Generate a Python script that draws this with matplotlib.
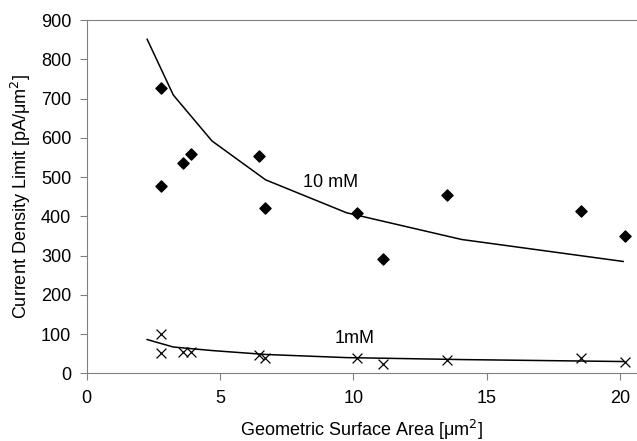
import numpy as np
import matplotlib
matplotlib.use('Agg')
import matplotlib.pyplot as plt

plt.rcParams['font.family'] = ['Liberation Sans', 'DejaVu Sans']

# measured points, 10 mM
area_10 = [2.8, 2.8, 3.6, 3.9, 6.45, 6.7, 10.15, 11.1, 13.5, 18.55, 20.2]
limit_10 = [727, 478, 537, 559, 554, 421, 408, 291, 455, 413, 351]

# measured points, 1 mM
area_1 = [2.8, 2.8, 3.6, 3.9, 6.45, 6.7, 10.15, 11.1, 13.5, 18.55, 20.2]
limit_1 = [101, 53, 55, 54, 46, 40, 38, 24, 34, 39, 28]

# model curves
fit_area = [2.27, 3.25, 4.7, 6.71, 9.75, 14.06, 20.12]
fit_10 = [851, 709, 592, 493, 409, 341, 285]
fit_1 = [86, 67, 58, 48, 40, 35, 30]

fig = plt.figure(figsize=(6.37, 4.41), dpi=100)
ax = fig.add_axes([0.136, 0.1535, 0.864, 0.801])

ax.plot(fit_area, fit_10, color='black', lw=1.1)
ax.plot(fit_area, fit_1, color='black', lw=1.1)
ax.scatter(area_10, limit_10, marker='D', s=32, color='black', zorder=3)
ax.scatter(area_1, limit_1, marker='x', s=50, color='black', lw=0.9, zorder=3)

ax.text(8.1, 485, '10 mM', fontsize=13, va='center')
ax.text(9.3, 88, '1mM', fontsize=13, va='center')

ax.set_xlim(0, 20.64)
ax.set_ylim(0, 900)
ax.set_xticks([0, 5, 10, 15, 20])
ax.set_yticks(np.arange(0, 901, 100))

for side in ['left', 'bottom', 'top']:
    ax.spines[side].set_color('#808080')
ax.spines['right'].set_visible(False)
ax.tick_params(direction='out', length=5, color='#808080', labelsize=13)
ax.tick_params(axis='x', pad=7)
ax.tick_params(axis='y', pad=6)

ax.set_xlabel('Geometric Surface Area [\u03bcm$^2$]', fontsize=13, labelpad=8)
ax.set_ylabel('Current Density Limit [pA/\u03bcm$^2$]', fontsize=13, labelpad=6)

fig.savefig('out.png', dpi=100)
